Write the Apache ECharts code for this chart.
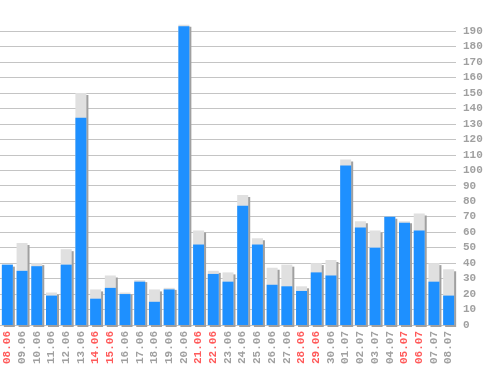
<!DOCTYPE html>
<html>
<head>
<meta charset="utf-8">
<script src="https://cdn.jsdelivr.net/npm/echarts@6/dist/echarts.min.js"></script>
<style>
html,body{margin:0;padding:0;background:#fff;}
#chart{width:498px;height:370px;}
</style>
</head>
<body>
<div id="chart"></div>
<script>
const categories = ['08.06','09.06','10.06','11.06','12.06','13.06','14.06','15.06','16.06','17.06','18.06','19.06','20.06','21.06','22.06','23.06','24.06','25.06','26.06','27.06','28.06','29.06','30.06','01.07','02.07','03.07','04.07','05.07','06.07','07.07','08.07'];
const weekend = ['08.06','14.06','15.06','21.06','22.06','28.06','29.06','05.07','06.07'];
const blueValues = [39,35,38,19,39,134,17,24,20,28,15,23,193,52,33,28,77,52,26,25,22,34,32,103,63,50,70,66,61,28,19];
const totalValues = [39,53,40,21,49,150,23,32,21,29,23,24,194,61,35,34,84,56,37,39,25,40,42,107,67,61,70,67,72,40,36];
const yTicks = {min:0, max:190, interval:10};

const chart = echarts.init(document.getElementById('chart'));
const font = 'Liberation Mono';
chart.setOption({
  animation:false,
  backgroundColor:'#ffffff',
  grid:{left:-3, right:42, top:31, bottom:45, containLabel:false},
  xAxis:{
    type:'category',
    data:categories,
    axisLine:{show:false},
    axisTick:{show:false},
    splitLine:{show:false},
    axisLabel:{
      interval:0, rotate:90, margin:6, padding:[7,0,0,0],
      fontFamily:font, fontSize:11, fontWeight:'bold',
      color:function(v){ return weekend.indexOf(v)>=0 ? '#ff5a5a' : '#a0a0a0'; }
    }
  },
  yAxis:{
    type:'value', position:'right',
    min:yTicks.min, max:yTicks.max, interval:yTicks.interval,
    axisLine:{show:false},
    axisTick:{show:false},
    splitLine:{show:true, lineStyle:{color:'#c4c4c4', width:1}},
    axisLabel:{margin:7, fontFamily:font, fontSize:11, fontWeight:'bold', color:'#a0a0a0'}
  },
  series:[
    {type:'bar', data:totalValues, barWidth:11, clip:false, z:2,
     itemStyle:{color:'#e0e0e0', shadowColor:'#a0a0a0', shadowOffsetX:2, shadowOffsetY:2, shadowBlur:0}},
    {type:'bar', data:blueValues, barWidth:11, barGap:'-100%', clip:false, z:3,
     itemStyle:{color:'#1e90ff'}}
  ]
});
</script>
</body>
</html>
